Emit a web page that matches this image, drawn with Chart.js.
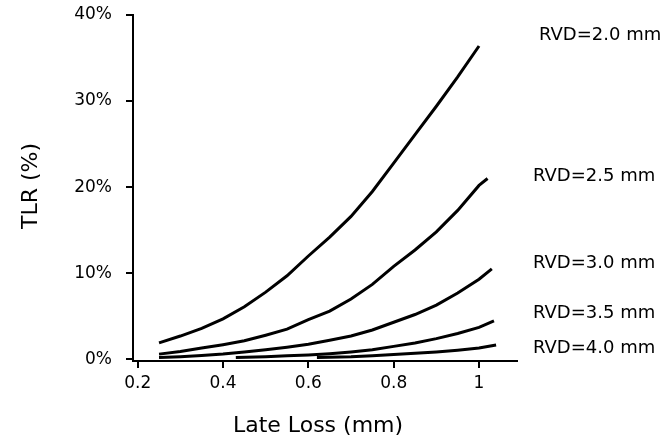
<!DOCTYPE html>
<html>
<head>
<meta charset="utf-8">
<script src="https://cdn.jsdelivr.net/npm/chart.js@4.4.1/dist/chart.umd.min.js"></script>
<style>
  html, body { margin: 0; padding: 0; background: #fff; }
  canvas { display: block; }
</style>
</head>
<body>
<canvas id="tlrChart" width="664" height="442"></canvas>
<script>
// Late loss (mm) and TLR (%), one pair of arrays per vessel size
const loss20 = [0.25, 0.3, 0.35, 0.4, 0.45, 0.5, 0.55, 0.6, 0.65, 0.7, 0.75, 0.8, 0.85, 0.9, 0.95, 1.0];
const tlr20  = [1.9, 2.7, 3.6, 4.7, 6.1, 7.8, 9.7, 12.0, 14.2, 16.6, 19.5, 22.8, 26.1, 29.4, 32.8, 36.4];

const loss25 = [0.25, 0.3, 0.35, 0.4, 0.45, 0.5, 0.55, 0.6, 0.65, 0.7, 0.75, 0.8, 0.85, 0.9, 0.95, 1.0, 1.02];
const tlr25  = [0.6, 0.9, 1.3, 1.7, 2.15, 2.8, 3.5, 4.6, 5.6, 7.0, 8.7, 10.8, 12.7, 14.8, 17.3, 20.2, 21.0];

const loss30 = [0.25, 0.3, 0.35, 0.4, 0.45, 0.5, 0.55, 0.6, 0.65, 0.7, 0.75, 0.8, 0.85, 0.9, 0.95, 1.0, 1.03];
const tlr30  = [0.2, 0.3, 0.45, 0.6, 0.85, 1.1, 1.4, 1.75, 2.2, 2.7, 3.4, 4.3, 5.2, 6.3, 7.7, 9.3, 10.5];

const loss35 = [0.43, 0.5, 0.55, 0.6, 0.65, 0.7, 0.75, 0.8, 0.85, 0.9, 0.95, 1.0, 1.035];
const tlr35  = [0.2, 0.3, 0.4, 0.5, 0.65, 0.85, 1.1, 1.5, 1.9, 2.4, 3.0, 3.7, 4.45];

const loss40 = [0.62, 0.7, 0.75, 0.8, 0.85, 0.9, 0.95, 1.0, 1.04];
const tlr40  = [0.2, 0.3, 0.42, 0.55, 0.7, 0.85, 1.05, 1.3, 1.65];

const seriesNames = ['RVD=2.0 mm', 'RVD=2.5 mm', 'RVD=3.0 mm', 'RVD=3.5 mm', 'RVD=4.0 mm'];
const xTicks = [0.2, 0.4, 0.6, 0.8, 1.0];
const yTicks = [0, 10, 20, 30, 40];

const FONT = '"DejaVu Sans", sans-serif';

function toPoints(xs, ys) {
    return xs.map((x, i) => ({ x: x, y: ys[i] }));
}

const allSeries = [
    [loss20, tlr20], [loss25, tlr25], [loss30, tlr30], [loss35, tlr35], [loss40, tlr40]
];

// Labels on the right and the two axis titles
const textPlugin = {
    id: 'sideText',
    afterDraw(chart, args, opts) {
        const ctx = chart.ctx;
        const area = chart.chartArea;
        const yScale = chart.scales.y;
        ctx.save();
        ctx.fillStyle = '#000';
        ctx.textBaseline = 'middle';
        ctx.textAlign = 'left';
        ctx.font = '18px ' + FONT;
        seriesNames.forEach((name, i) => {
            const x = area.right + (i === 0 ? 22 : 16);
            ctx.fillText(name, x, yScale.getPixelForValue(opts.labelAt[i]));
        });

        ctx.font = '22px ' + FONT;
        ctx.textAlign = 'center';
        ctx.fillText('Late Loss (mm)', 318, 426);

        ctx.translate(31, 186);
        ctx.rotate(-Math.PI / 2);
        ctx.fillText('TLR (%)', 0, 0);
        ctx.restore();
    }
};

const axisLook = {
    grid: { display: true, drawOnChartArea: false, drawTicks: true, tickLength: 7, color: '#000', lineWidth: 2 },
    border: { display: true, color: '#000', width: 2 }
};

new Chart(document.getElementById('tlrChart'), {
    type: 'scatter',
    data: {
        datasets: allSeries.map((s, i) => ({
            label: seriesNames[i],
            data: toPoints(s[0], s[1]),
            showLine: true,
            borderColor: '#000',
            borderWidth: 3,
            pointRadius: 0,
            tension: 0,
            fill: false
        }))
    },
    plugins: [textPlugin],
    options: {
        responsive: false,
        animation: false,
        layout: { padding: { top: 15, right: 147, left: 0, bottom: 0 } },
        plugins: {
            legend: { display: false },
            tooltip: { enabled: false },
            sideText: { labelAt: [37.6, 21.3, 11.2, 5.3, 1.3] }
        },
        scales: {
            x: {
                type: 'linear',
                min: 0.189,
                max: 1.089,
                ...axisLook,
                afterBuildTicks: (scale) => { scale.ticks = xTicks.map(v => ({ value: v })); },
                afterFit: (scale) => {
                    scale.height = 81;
                    scale.paddingLeft = 0;
                    scale.paddingRight = 0;
                },
                ticks: {
                    color: '#000',
                    padding: 5,
                    maxRotation: 0,
                    font: { family: FONT, size: 17 },
                    callback: (v) => String(Number(v.toFixed(1)))
                }
            },
            y: {
                type: 'linear',
                min: -0.2,
                max: 40,
                ...axisLook,
                afterBuildTicks: (scale) => { scale.ticks = yTicks.map(v => ({ value: v })); },
                afterFit: (scale) => {
                    scale.width = 133;
                    scale.paddingTop = 0;
                    scale.paddingBottom = 0;
                },
                ticks: {
                    color: '#000',
                    padding: 14,
                    font: { family: FONT, size: 17 },
                    callback: (v) => v + '%'
                }
            }
        }
    }
});
</script>
</body>
</html>
